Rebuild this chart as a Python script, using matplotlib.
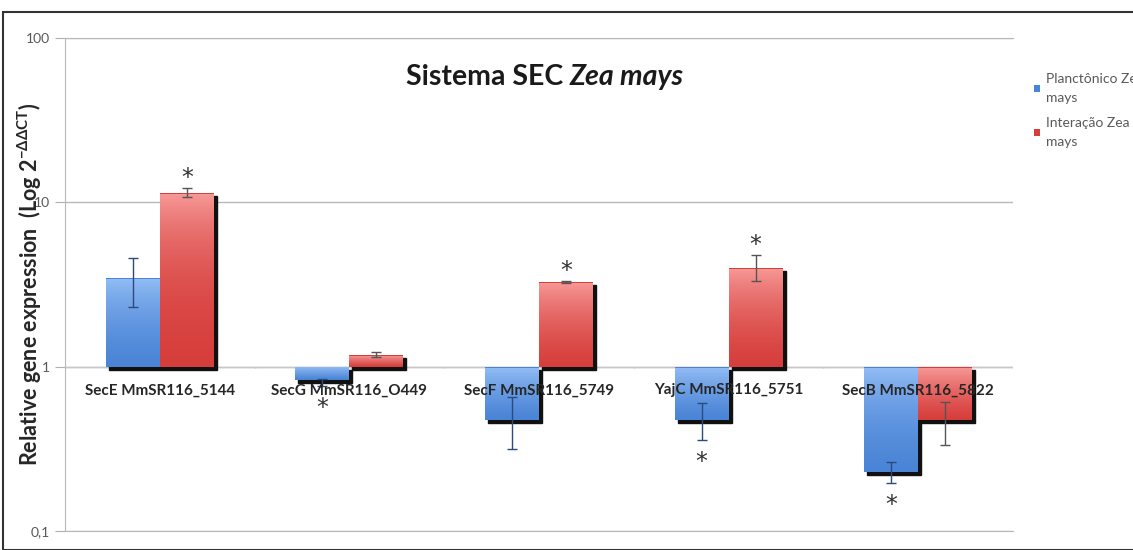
import matplotlib
matplotlib.use("Agg")
import matplotlib.pyplot as plt
import numpy as np
from matplotlib.patches import Rectangle
from matplotlib.colors import LinearSegmentedColormap
import matplotlib.transforms as mtransforms

plt.rcParams['font.family'] = ['Lato', 'DejaVu Sans']
plt.rcParams['mathtext.fontset'] = 'custom'
plt.rcParams['mathtext.rm'] = 'Lato:bold'
plt.rcParams['mathtext.it'] = 'Lato:bold'

# data
genes = ["SecE MmSR116_5144", "SecG MmSR116_O449", "SecF MmSR116_5749",
         "YajC MmSR116_5751", "SecB MmSR116_5822"]
planctonico = [3.48, 0.83, 0.476, 0.476, 0.23]
planc_lo = [2.3, 0.76, 0.316, 0.36, 0.197]
planc_hi = [4.6, 0.84, 0.65, 0.60, 0.264]
interacao = [11.4, 1.18, 3.29, 4.0, 0.476]
inter_lo = [10.8, 1.14, 3.25, 3.3, 0.336]
inter_hi = [12.3, 1.22, 3.33, 4.8, 0.61]
planc_sig = [False, True, False, True, True]
inter_sig = [True, False, True, True, False]
series_labels = ["Planctônico Zea\nmays", "Interação Zea\nmays"]
ytick_vals = [0.1, 1, 10, 100]
ytick_text = ["0,1", "1", "10", "100"]

W, H = 1133, 550
fig = plt.figure(figsize=(W / 100, H / 100), dpi=100)
ax = fig.add_axes([65 / W, 1 - 531 / H, 948 / W, 493 / H])
ax.set_yscale('log')

x = np.arange(len(genes))
bw = 0.285

def draw_series(vals, lo, hi, xpos, top_c, bot_c, err_c):
    cmap = LinearSegmentedColormap.from_list("g", [bot_c, top_c])
    base = 1.0
    heights = [v - base for v in vals]
    bars = ax.bar(xpos, heights, bw, bottom=base, color=bot_c, zorder=2)
    shift = mtransforms.ScaledTranslation(3 / 100, -3 / 100, fig.dpi_scale_trans)
    for p in bars:
        sh = Rectangle(p.get_xy(), p.get_width(), p.get_height(),
                       transform=ax.transData + shift, color="#111111", zorder=1.5)
        ax.add_patch(sh)
        x0, y0 = p.get_xy()
        y1 = y0 + p.get_height()
        grad = np.linspace(0, 1, 64).reshape(-1, 1)
        im = ax.imshow(grad, cmap=cmap, origin='lower', aspect='auto',
                       extent=[x0, x0 + p.get_width(), min(y0, y1), max(y0, y1)],
                       zorder=2.1, interpolation='bilinear')
        im.set_clip_path(p)
    v = np.array(vals)
    yerr = [v - np.array(lo), np.array(hi) - v]
    ax.errorbar(xpos, v, yerr=yerr, fmt='none', ecolor=err_c, elinewidth=1.0,
                capsize=3.5, capthick=1.0, zorder=4)
    return bars

b1 = draw_series(planctonico, planc_lo, planc_hi, x - bw / 2,
                 "#93bdf5", "#4a84d6", "#2b4a7e")
b2 = draw_series(interacao, inter_lo, inter_hi, x + bw / 2,
                 "#f79a98", "#d63e3b", "#555555")

# significance marks
star = dict(textcoords='offset points', ha='center', va='baseline',
            fontsize=17, color="#333333", zorder=5, family='DejaVu Sans')
for i in range(len(genes)):
    if planc_sig[i]:
        ax.annotate("*", (x[i] - bw / 2, planc_lo[i]), xytext=(0, -21), **star)
    if inter_sig[i]:
        ax.annotate("*", (x[i] + bw / 2, inter_hi[i]), xytext=(0, 2), **star)

# category labels over the baseline
for i, g in enumerate(genes):
    ax.annotate(g, (x[i], 1), xytext=(0, -17), textcoords='offset points',
                ha='center', va='center', fontsize=11, fontweight='bold',
                color="#262626", zorder=6)

ax.set_xlim(-0.5, len(genes) - 0.5)
ax.set_ylim(0.1, 100)
ax.set_yticks(ytick_vals)
ax.set_yticklabels(ytick_text)
ax.yaxis.set_minor_locator(plt.NullLocator())
ax.set_xticks([])
ax.tick_params(axis='y', length=7, color="#b0b0b0", labelsize=10,
               labelcolor="#595959", pad=4)
ax.grid(axis='y', which='major', color="#b8b8b8", linewidth=1.0, zorder=0)
ax.set_axisbelow(True)
ax.spines['right'].set_visible(False)
for s in ['left', 'top', 'bottom']:
    ax.spines[s].set_color("#b8b8b8")
ax.axhline(1, color="#c8c8c8", linewidth=1.0, zorder=1)
# category separators on the baseline
ax.vlines(np.arange(len(genes) + 1) - 0.5, 0.975, 1.0, color="#c8c8c8", linewidth=1.0, zorder=1)

fig.text(30 / W, 1 - 284 / H, "Relative gene expression  (Log 2$^{-\\Delta\\Delta\\mathrm{CT}}$)",
         rotation=90, ha='center', va='center', fontsize=15.5,
         fontweight='bold', color="#262626")

fig.text(570 / W, 1 - 77 / H, "Sistema SEC ", ha='right', va='center',
         fontsize=20.5, fontweight='bold', color="#1a1a1a")
fig.text(570 / W, 1 - 77 / H, "Zea mays", ha='left', va='center',
         fontsize=20.5, fontweight='bold', style='italic', color="#1a1a1a")

leg = fig.legend([b1, b2], series_labels, loc='upper left',
                 bbox_to_anchor=(1027 / W, 1 - 66 / H), frameon=False, fontsize=10,
                 handlelength=0.4, handleheight=0.4, handletextpad=0.45,
                 labelspacing=0.95, labelcolor="#595959", borderpad=0)
for t in leg.get_texts():
    t.set_linespacing(1.7)

# outer frame of the chart area
fig.patches.append(Rectangle((3 / W, 0), 1.2, 1 - 12 / H, transform=fig.transFigure,
                             fill=False, edgecolor="#333333", linewidth=1.5))

fig.savefig("out.png", dpi=100)
